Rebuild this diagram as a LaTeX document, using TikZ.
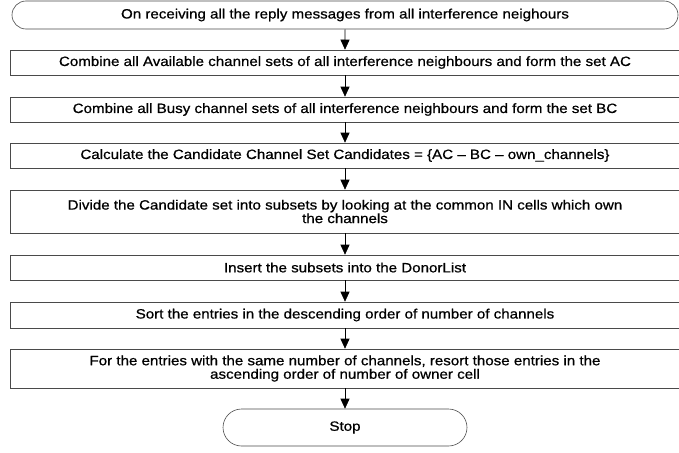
\documentclass[tikz,border=0pt]{standalone}
\usepackage{fontspec}
\setmainfont{Liberation Sans}[FakeStretch=1.12,FakeBold=0.7]
\usepackage{tikz}
\usetikzlibrary{arrows.meta,shapes.misc}
\usepackage{xcolor}
\definecolor{flowline}{HTML}{4A4A4A}

\tikzset{
  flowbox/.style={draw=flowline, line width=0.6pt, minimum width=670pt, minimum height=25pt, inner sep=1pt, align=center, font=\fontsize{13.5}{13.5}\selectfont},
  termbox/.style={flowbox, rounded rectangle},
  flowarrow/.style={-{Triangle[width=9pt,length=10pt]}, line width=0.6pt, black}
}

\begin{document}
\begin{tikzpicture}[x=1pt,y=-1pt]
\useasboundingbox (0,0) rectangle (679,452);
\node[termbox, minimum width=668pt, minimum height=28pt] (recv) at (345,15) {On receiving all the reply messages from all interference neighours};
\node[flowbox] (avail) at (345,62.5) {Combine all Available channel sets of all interference neighbours and form the set AC};
\node[flowbox] (busy) at (345,109.5) {Combine all Busy channel sets of all interference neighbours and form the set BC};
\node[flowbox] (cand) at (345,155.5) {Calculate the Candidate Channel Set Candidates = \{AC – BC – own\_channels\}};
\node[flowbox, minimum height=43pt] (divide) at (345,211.5) {Divide the Candidate set into subsets by looking at the common IN cells which own\\the channels};
\node[flowbox] (insert) at (345,267.5) {Insert the subsets into the DonorList};
\node[flowbox, minimum height=26pt] (sortdesc) at (345,315) {Sort the entries in the descending order of number of channels};
\node[flowbox, minimum height=39pt] (resort) at (345,368.5) {For the entries with the same number of channels, resort those entries in the\\ascending order of number of owner cell};
\node[termbox, minimum width=246pt, minimum height=37pt] (stop) at (345,427.5) {Stop};
\draw[flowarrow] (recv) -- (avail);
\draw[flowarrow] (avail) -- (busy);
\draw[flowarrow] (busy) -- (cand);
\draw[flowarrow] (cand) -- (divide);
\draw[flowarrow] (divide) -- (insert);
\draw[flowarrow] (insert) -- (sortdesc);
\draw[flowarrow] (sortdesc) -- (resort);
\draw[flowarrow] (resort) -- (stop);
\end{tikzpicture}
\end{document}
